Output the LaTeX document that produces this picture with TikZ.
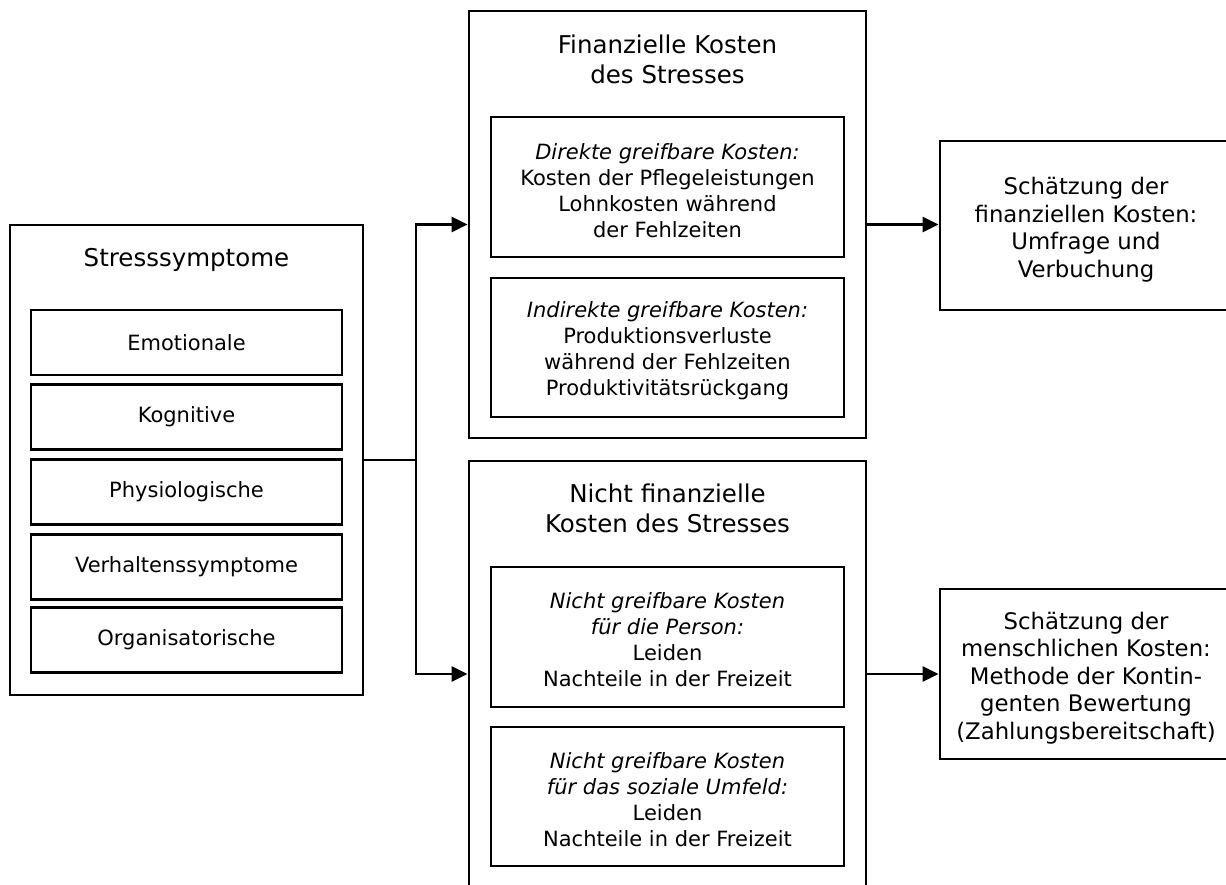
\documentclass[tikz,border=0pt]{standalone}
\usepackage{fontspec}
\setmainfont{DejaVu Sans}
\usetikzlibrary{arrows.meta}
\tikzset{
  box/.style={draw, line width=2.9pt, inner sep=0pt, align=center},
  body/.style={font=\fontsize{21}{26}\selectfont, align=center, inner sep=0pt},
  rbody/.style={font=\fontsize{22.8}{27.5}\selectfont, align=center, inner sep=0pt},
  ttl/.style={font=\fontsize{24.5}{29.5}\selectfont, align=center, inner sep=0pt},
  conn/.style={line width=2.9pt},
  arr/.style={line width=2.9pt, -{Triangle[length=16pt,width=15pt]}},
}
\begin{document}
\begin{tikzpicture}[x=1pt,y=-1pt]
\clip (0,0) rectangle (1226,884);
\fill[white] (0,0) rectangle (1226,884);

% left: symptoms
\node[box, minimum width=353pt, minimum height=470pt] (sym) at (186.5,460) {};
\node[ttl] (symt) at (186.5,260) {Stresssymptome};
\node[box, body, minimum width=311pt, minimum height=65pt] (s1) at (186.5,342.5) {Emotionale};
\node[box, body, minimum width=311pt, minimum height=65pt] (s2) at (186.5,417) {Kognitive};
\node[box, body, minimum width=311pt, minimum height=65pt] (s3) at (186.5,492) {Physiologische};
\node[box, body, minimum width=311pt, minimum height=65pt] (s4) at (186.5,567) {Verhaltenssymptome};
\node[box, body, minimum width=311pt, minimum height=65pt] (s5) at (186.5,640) {Organisatorische};

% middle top: financial costs
\node[box, minimum width=397pt, minimum height=427pt] (fin) at (667.5,224.5) {};
\node[ttl] (fint) at (667.5,59.5) {Finanzielle Kosten\\des Stresses};
\node[box, minimum width=353pt, minimum height=140pt] (fin1) at (667.5,187) {};
\node[body] (fin1t) at (667.5,190.5)
  {\textit{Direkte greifbare Kosten:}\\Kosten der Pflegeleistungen\\Lohnkosten während\\der Fehlzeiten};
\node[box, minimum width=353pt, minimum height=139pt] (fin2) at (667.5,347.5) {};
\node[body] (fin2t) at (667.5,350.5)
  {\textit{Indirekte greifbare Kosten:}\\Produktionsverluste\\während der Fehlzeiten\\Produktivitätsrückgang};

% middle bottom: non-financial costs
\node[box, minimum width=397pt, minimum height=440pt] (nf) at (667.5,681) {};
\node[ttl] (nft) at (667.5,508.5) {Nicht finanzielle\\Kosten des Stresses};
\node[box, minimum width=353pt, minimum height=140pt] (nf1) at (667.5,637) {};
\node[body] (nf1t) at (667.5,640)
  {\textit{Nicht greifbare Kosten}\\\textit{für die Person:}\\Leiden\\Nachteile in der Freizeit};
\node[box, minimum width=353pt, minimum height=139pt] (nf2) at (667.5,796.5) {};
\node[body] (nf2t) at (667.5,799.5)
  {\textit{Nicht greifbare Kosten}\\\textit{für das soziale Umfeld:}\\Leiden\\Nachteile in der Freizeit};

% right: estimations
\node[box, minimum width=290pt, minimum height=169pt] (est1) at (1085,225.5) {};
\node[rbody] (est1t) at (1086,229.5)
  {Schätzung der\\finanziellen Kosten:\\Umfrage und\\Verbuchung};
\node[box, minimum width=290pt, minimum height=170pt] (est2) at (1085,674) {};
\node[rbody] (est2t) at (1086,678)
  {Schätzung der\\menschlichen Kosten:\\Methode der Kontin-\\genten Bewertung\\(Zahlungsbereitschaft)};

% connectors
\coordinate (j) at (416,460);
\draw[conn] (sym.east) -- (j);
\draw[arr] (j) |- (fin.west);
\draw[arr] (j) |- (nf.west |- est2.west);
\draw[arr] (fin.east) -- (est1.west |- fin.east);
\draw[arr] (nf.east |- est2.west) -- (est2.west);
\end{tikzpicture}
\end{document}
